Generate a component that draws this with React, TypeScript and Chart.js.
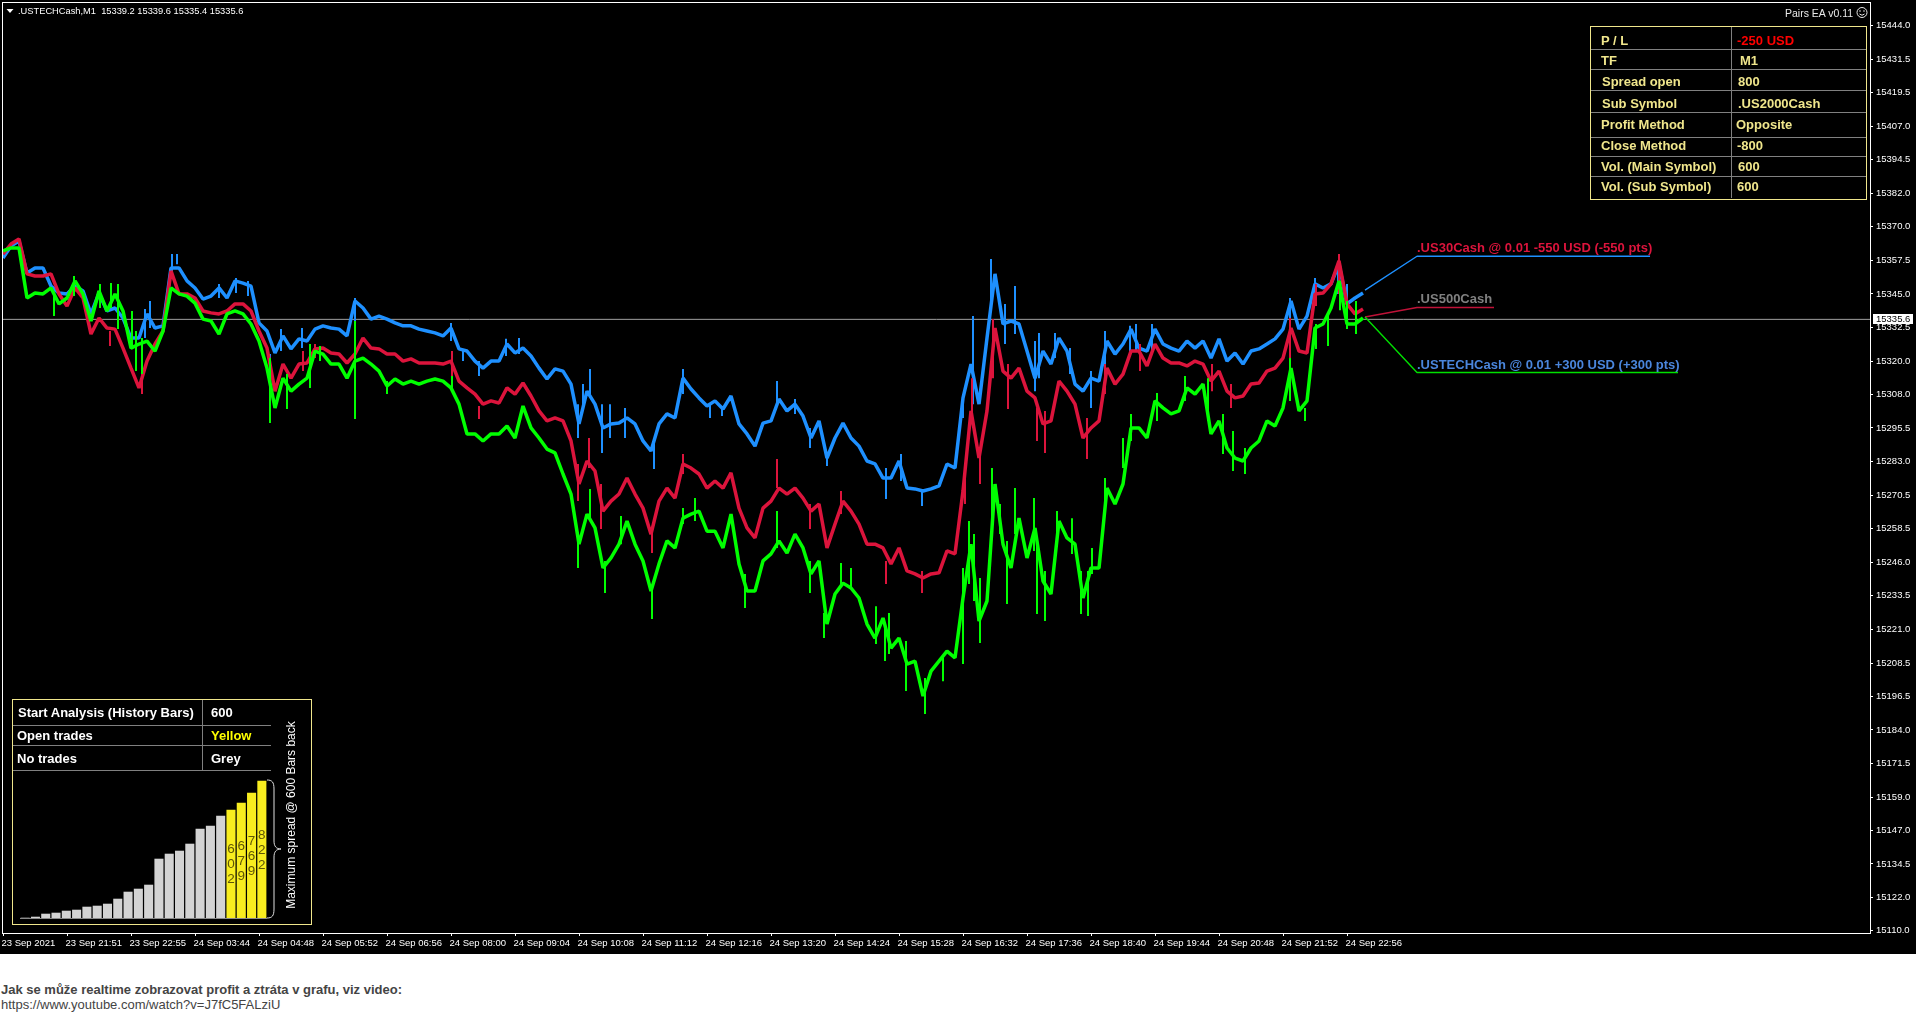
import React, { useEffect, useRef } from "react";
import { Chart, registerables } from "chart.js";

Chart.register(...registerables);

const SAMPLE_STEP = 8; // one reading every 8 one-minute bars

const blueSeries = [
  15358.3,15362.7,15364.5,15352.7,15354.6,15354.6,15347.9,15345.3,15345.0,15347.9,15346.1,15337.6,15345.3,15338.7,15339.8,15336.1,15328.7,15328.7,15337.6,15332.4,15333.2,15354.6,15354.6,15349.8,15347.2,15343.1,15344.2,15347.2,15343.5,15349.8,15349.0,15347.9,15334.3,
  15331.3,15323.2,15329.5,15324.7,15328.4,15327.6,15332.0,15333.2,15332.4,15332.0,15329.5,15342.4,15339.8,15335.7,15336.8,15335.7,15334.3,15333.2,15333.2,15332.0,15331.3,15330.6,15329.5,15332.4,15324.7,15323.9,15320.2,15317.6,15320.2,15320.2,
  15326.5,15323.2,15325.0,15322.1,15317.6,15313.6,15317.3,15316.5,15311.7,15297.0,15309.1,15304.3,15295.5,15297.0,15297.3,15299.2,15297.0,15290.7,15287.0,15297.0,15300.7,15299.2,15313.9,15309.9,15306.6,15303.6,15305.5,15302.5,15307.3,15297.0,15293.3,15288.8,15297.3,15298.1,15306.2,15301.8,15304.3,15299.9,15291.8,15298.1,15284.4,15291.8,15297.3,15291.8,15288.8,15283.3,15282.2,15277.0,15277.0,15283.3,15273.3,15273.0,15272.2,15273.0,15274.1,15282.2,15280.7,
  15306.6,15319.1,15304.3,15328.7,15352.4,15333.9,15335.0,15333.9,15323.9,15313.9,15323.9,15319.1,15328.7,15323.9,15311.7,15309.1,15313.9,15312.8,15327.6,15322.8,15326.5,15332.0,15325.0,15323.9,15332.0,15326.5,15325.0,15323.9,15327.6,15325.0,15327.6,15321.3,15328.4,15320.2,15323.2,15319.1,15323.9,15324.7,15326.5,15328.4,15332.0,15342.4,15332.0,15336.8,15348.7,15347.2,15348.7,15356.0,15341.3,15343.5,15345.3,
];

const redSeries = [
  15359.7,15363.4,15365.3,15352.4,15351.6,15351.6,15352.4,15345.0,15340.5,15347.2,15343.5,15330.2,15336.1,15332.4,15332.0,15325.0,15317.6,15310.3,15320.2,15326.5,15331.3,15353.5,15345.0,15345.0,15343.5,15338.7,15338.0,15337.6,15338.7,15341.3,15341.3,15338.7,15331.3,
  15325.0,15309.1,15319.1,15313.9,15319.1,15319.5,15324.7,15325.0,15323.2,15322.8,15319.5,15322.8,15328.7,15325.0,15324.7,15322.8,15322.8,15320.2,15321.0,15319.5,15319.5,15319.5,15319.1,15320.2,15312.8,15310.3,15308.0,15304.3,15305.5,15304.7,
  15310.3,15308.0,15312.1,15307.3,15301.8,15298.1,15299.2,15298.1,15290.7,15274.8,15283.3,15279.6,15264.8,15268.5,15271.1,15277.0,15271.1,15265.9,15256.3,15268.5,15273.3,15269.6,15282.2,15280.7,15278.5,15273.3,15275.9,15273.3,15278.9,15265.9,15258.6,15254.9,15265.9,15268.5,15273.3,15271.1,15273.3,15269.6,15264.8,15267.4,15251.2,15260.0,15268.5,15264.8,15260.0,15252.6,15252.6,15251.2,15245.3,15251.2,15242.7,15241.6,15240.1,15241.6,15242.0,15250.1,15249.0,
  15272.2,15301.8,15284.4,15301.8,15332.4,15316.5,15313.9,15317.6,15309.1,15306.6,15297.0,15298.1,15312.8,15309.1,15304.3,15291.8,15295.5,15298.1,15317.6,15311.7,15315.4,15323.9,15323.9,15318.4,15326.5,15321.3,15319.5,15319.5,15318.4,15320.2,15319.1,15312.8,15316.5,15309.1,15306.6,15307.3,15311.7,15312.1,15316.5,15317.6,15321.3,15332.4,15323.9,15323.2,15345.0,15345.3,15348.7,15357.2,15341.3,15337.6,15339.4,
];

const greenSeries = [
  15360.9,15362.0,15362.0,15343.5,15345.3,15345.0,15347.2,15341.3,15343.5,15349.8,15345.0,15335.0,15346.1,15338.7,15345.0,15338.7,15325.0,15326.5,15327.6,15323.9,15331.3,15347.2,15345.0,15344.2,15341.6,15335.7,15335.0,15330.2,15337.6,15338.7,15337.6,15333.9,15327.6,
  15317.6,15302.9,15313.9,15309.1,15311.7,15313.9,15323.9,15322.8,15319.1,15319.1,15313.9,15320.2,15321.3,15319.1,15316.5,15311.0,15313.6,15311.7,15312.8,15311.7,15312.8,15313.6,15312.8,15310.3,15304.3,15293.3,15293.3,15290.7,15293.3,15293.3,
  15296.2,15291.8,15303.6,15295.5,15291.8,15287.7,15286.3,15278.5,15271.1,15252.6,15263.7,15258.6,15243.8,15247.5,15252.6,15261.1,15252.6,15246.4,15235.3,15245.3,15253.8,15251.2,15262.2,15263.7,15264.8,15257.4,15257.4,15251.2,15263.7,15245.3,15235.3,15235.3,
  15246.4,15249.0,15253.8,15249.3,15256.3,15251.2,15241.6,15246.4,15223.1,15234.2,15238.2,15236.4,15232.7,15223.1,15217.9,15225.3,15214.2,15217.9,15208.3,15209.4,15196.5,15205.7,15209.4,15213.1,15210.6,
  15232.7,15252.6,15224.2,15231.6,15274.8,15252.6,15243.8,15262.2,15247.5,15258.6,15239.0,15234.2,15261.1,15254.9,15252.6,15232.7,15243.8,15243.8,15273.3,15267.4,15274.8,15295.5,15295.5,15291.8,15305.5,15302.9,15300.7,15301.8,15310.3,15308.0,15311.7,15293.3,15298.1,15288.1,15284.4,15283.3,15288.1,15290.7,15298.1,15296.2,15302.9,15317.6,15301.8,15305.5,15332.4,15333.9,15339.8,15349.8,15333.9,15333.9,15336.1,
];

// the tallest high/low excursions: [bar, high, low]
const blueWicks = [
  [169,15359.7,15353.5],[174,15359.7,15356.0],[216,15348.7,15343.5],[233,15350.9,15345.3],[245,15349.8,15344.2],[147,15342.4,15332.4],[142,15339.4,15328.7],[352,15343.5,15328.7],
  [278,15332.0,15323.9],[299,15332.4,15325.0],[476,15320.2,15314.7],[448,15334.3,15327.6],[267,15322.8,15313.9],[460,15323.9,15320.2],[503,15328.4,15322.1],[516,15328.7,15322.8],
  [587,15317.3,15308.0],[580,15311.7,15302.9],[575,15304.3,15291.8],[599,15304.3,15286.3],[607,15304.3,15291.8],[622,15302.9,15291.8],[651,15289.6,15280.3],[680,15317.3,15308.0],
  [707,15304.3,15299.2],[719,15303.6,15299.9],[774,15312.8,15304.3],[792,15306.2,15300.7],[807,15295.5,15288.1],[824,15285.9,15281.5],[898,15285.9,15275.9],[883,15280.7,15269.3],
  [919,15273.0,15266.7],[970,15336.8,15304.3],[988,15357.9,15338.7],[1012,15347.9,15330.2],[1002,15341.3,15326.5],[960,15308.0,15299.2],[1036,15330.6,15313.9],[1032,15327.6,15309.1],
  [1052,15330.6,15321.3],[1067,15325.0,15315.4],[1088,15316.5,15302.9],[1102,15331.3,15319.1],[1127,15333.2,15322.1],[1133,15333.9,15323.9],[1149,15333.9,15322.8],[1287,15343.5,15332.4],
  [1312,15350.9,15342.4],[1335,15356.0,15345.0],[1344,15348.7,15336.1],
];
const redWicks = [
  [139,15320.2,15308.0],[107,15331.3,15325.8],[352,15333.9,15322.8],[267,15317.6,15308.0],[300,15323.9,15316.5],[312,15326.5,15321.3],[449,15323.9,15313.9],[476,15303.6,15298.8],
  [575,15282.2,15268.5],[586,15291.8,15280.7],[598,15274.8,15258.2],[649,15258.6,15249.3],[680,15285.9,15278.5],[774,15284.0,15273.3],[807,15267.4,15258.2],[838,15272.2,15263.7],
  [883,15246.4,15237.9],[919,15242.7,15234.6],[962,15277.0,15267.4],[969,15313.9,15297.0],[977,15288.1,15274.8],[990,15335.7,15313.9],[1005,15319.1,15302.5],[1034,15302.9,15290.7],
  [1042,15301.8,15286.3],[1084,15299.2,15284.0],[1102,15319.1,15308.0],[1137,15326.5,15316.5],[1209,15319.1,15309.1],[1228,15311.7,15302.9],[1287,15336.1,15321.3],[1313,15348.7,15340.5],
  [1336,15359.7,15345.0],
];
const greenWicks = [
  [51,15346.1,15336.8],[71,15351.6,15344.2],[97,15348.7,15339.8],[108,15349.0,15339.8],[115,15348.7,15332.0],[139,15328.7,15315.4],[129,15338.7,15325.0],[133,15331.3,15316.5],
  [267,15321.3,15297.3],[284,15315.4,15302.5],[352,15335.0,15298.8],[307,15326.5,15310.3],[384,15312.8,15308.0],[317,15325.8,15320.2],[449,15314.7,15309.1],[575,15256.3,15243.8],
  [587,15273.0,15262.2],[602,15246.4,15234.6],[649,15236.4,15225.0],[680,15265.9,15260.0],[692,15269.6,15261.1],[618,15263.0,15252.6],[742,15241.6,15229.0],[774,15264.8,15251.2],
  [807,15246.4,15234.6],[821,15227.2,15217.9],[838,15245.6,15237.9],[848,15243.8,15236.0],[873,15229.7,15215.7],[882,15223.1,15209.4],[886,15227.2,15212.0],[903,15216.8,15198.4],
  [922,15203.2,15189.9],[940,15210.6,15202.0],[960,15243.8,15208.3],[966,15261.1,15237.9],[971,15256.3,15231.6],[977,15240.1,15216.1],[989,15280.7,15262.2],[997,15267.4,15256.3],
  [1004,15253.8,15230.5],[1012,15273.3,15256.3],[1031,15269.6,15250.1],[1034,15252.6,15226.8],[1042,15242.7,15224.2],[1054,15264.8,15252.6],[1069,15262.2,15249.0],[1078,15242.7,15226.8],
  [1085,15242.7,15226.1],[1089,15251.2,15241.6],[1102,15277.0,15264.8],[1120,15291.8,15280.7],[1128,15300.7,15290.7],[1154,15308.4,15298.1],[1182,15314.7,15305.5],[1205,15313.9,15298.1],
  [1220,15300.7,15285.9],[1230,15294.4,15279.6],[1242,15288.1,15278.5],[1287,15321.3,15305.5],[1302,15302.9,15298.1],[1313,15333.9,15324.7],[1325,15337.6,15325.8],[1337,15349.8,15339.0],
  [1344,15342.4,15332.0],[1353,15342.4,15330.2],
];

const currentPrice = 15335.6;
const lastBar = 1362;
const labelBarStart = 1414;
const blueLinkPrices = [15346.4, 15358.9, 15358.9];
const blueLinkBars = [lastBar, labelBarStart, 1647];
const redLinkPrices = [15336.5, 15340.0, 15340.0];
const redLinkBars = [lastBar, labelBarStart, 1491];
const greenLinkPrices = [15336.5, 15316.0, 15316.0];
const greenLinkBars = [lastBar, labelBarStart, 1675];

const priceTicks = [
  15444.0,15431.5,15419.5,15407.0,15394.5,15382.0,15370.0,15357.5,15345.0,15332.5,15320.0,15308.0,15295.5,15283.0,
  15270.5,15258.5,15246.0,15233.5,15221.0,15208.5,15196.5,15184.0,15171.5,15159.0,15147.0,15134.5,15122.0,15110.0,
];

const timeLabels = [
  "23 Sep 2021","23 Sep 21:51","23 Sep 22:55","24 Sep 03:44","24 Sep 04:48","24 Sep 05:52","24 Sep 06:56","24 Sep 08:00",
  "24 Sep 09:04","24 Sep 10:08","24 Sep 11:12","24 Sep 12:16","24 Sep 13:20","24 Sep 14:24","24 Sep 15:28","24 Sep 16:32",
  "24 Sep 17:36","24 Sep 18:40","24 Sep 19:44","24 Sep 20:48","24 Sep 21:52","24 Sep 22:56",
];
const TIME_TICK_BARS = 64;

// inset histogram: column heights as read, and the numbers printed in the yellow columns
const spreadHeights = [1.3,2.3,5.3,6.3,8.3,9.3,12.3,13.3,15.3,20.3,27.3,30.3,34.3,60.3,65.3,68.3,75.3,90.3,93.3,103.3,109.3,116.3,126.3,138.3];
const spreadPrinted = ["","","","","","","","","","","","","","","","","","","","","602","679","769","822"];

const pnlRows = [
  ["P / L","-250 USD"],["TF","M1"],["Spread open","800"],["Sub Symbol",".US2000Cash"],
  ["Profit Method","Opposite"],["Close Method","-800"],["Vol. (Main Symbol)","600"],["Vol. (Sub Symbol)","600"],
];
const pnlRowCentres = [41,61,82,104,125,146,167,187];
const pnlLeftX = [1601,1601,1602,1602,1601,1601,1601,1601];
const pnlRightX = [1737,1740,1738,1738,1736,1737,1738,1737];
const pnlRules = [49,69,90,112,137,156,176];

const analysisRows = [
  ["Start Analysis (History Bars)","600"],["Open trades","Yellow"],["No trades","Grey"],
];
const analysisCentres = [713,736,759];
const analysisRules = [725,745,770];

const FONT = '"Liberation Sans", Arial, sans-serif';
const KHAKI = "#f0e68c";

function toPoints(values: number[]) {
  return values.map((y, i) => ({ x: i * SAMPLE_STEP, y }));
}
function linkPoints(bars: number[], prices: number[]) {
  return bars.map((x, i) => ({ x, y: prices[i] }));
}
function wickPoints(wicks: number[][]) {
  return wicks.flatMap(([x, hi, lo]) => [{ x, y: hi }, { x, y: lo }, { x, y: NaN }]);
}

const frameAndPrice = {
  id: "frameAndPrice",
  afterDatasetsDraw(chart: any) {
    const { ctx, chartArea: a, scales } = chart;
    ctx.save();
    ctx.strokeStyle = "#ffffff";
    ctx.lineWidth = 1;
    ctx.strokeRect(a.left - 0.5, a.top + 0.5, a.right - a.left + 1, a.bottom - a.top);
    const py = Math.round(scales.y.getPixelForValue(currentPrice));
    ctx.fillStyle = "#ffffff";
    ctx.fillRect(a.right + 3, py - 5, 40, 10);
    ctx.fillStyle = "#000000";
    ctx.font = `9.5px ${FONT}`;
    ctx.textBaseline = "middle";
    ctx.fillText(currentPrice.toFixed(1), a.right + 6, py);
    ctx.restore();
  },
};

const printedDigits = {
  id: "printedDigits",
  afterDatasetsDraw(chart: any) {
    const { ctx } = chart;
    const bars = chart.getDatasetMeta(0).data;
    ctx.save();
    ctx.fillStyle = "#5f5606";
    ctx.font = `13.5px ${FONT}`;
    ctx.textAlign = "center";
    ctx.textBaseline = "middle";
    bars.forEach((bar: any, i: number) => {
      const text = spreadPrinted[i];
      if (!text) return;
      const mid = (bar.y + bar.base) / 2;
      [...text].forEach((d, k) => ctx.fillText(d, bar.x, mid + (k - 1) * 15));
    });
    ctx.strokeStyle = "#8a8a8a";
    ctx.beginPath();
    ctx.moveTo(0, chart.chartArea.bottom - 0.5);
    ctx.lineTo(chart.width, chart.chartArea.bottom - 0.5);
    ctx.stroke();
    ctx.restore();
  },
};

function Txt(p: { x: number; cy: number; size: number; color: string; bold?: boolean; children: string }) {
  return (
    <div
      style={{
        position: "absolute", left: p.x, top: p.cy - 10, height: 20, lineHeight: "20px", whiteSpace: "pre",
        fontFamily: FONT, fontSize: p.size, fontWeight: p.bold ? 700 : 400, color: p.color,
      }}
    >
      {p.children}
    </div>
  );
}
function Box(p: { x: number; y: number; w: number; h: number; color: string }) {
  return <div style={{ position: "absolute", left: p.x, top: p.y, width: p.w, height: p.h, background: p.color }} />;
}

export default function App() {
  const mainRef = useRef<HTMLCanvasElement>(null);
  const insetRef = useRef<HTMLCanvasElement>(null);

  useEffect(() => {
    document.body.style.margin = "0";
    const line = (data: any[], color: string, width: number) => ({
      data, borderColor: color, borderWidth: width, pointRadius: 0, tension: 0, borderJoinStyle: "bevel" as const, fill: false, spanGaps: false,
    });
    const main = new Chart(mainRef.current!, {
      type: "line",
      data: {
        datasets: [
          line(linkPoints(greenLinkBars, greenLinkPrices), "#00e000", 1.4),
          line(linkPoints(redLinkBars, redLinkPrices), "#c01238", 1.4),
          line(linkPoints(blueLinkBars, blueLinkPrices), "#1e90ff", 1.4),
          line(wickPoints(greenWicks), "#00ff00", 2),
          line(toPoints(greenSeries), "#00ff00", 3.5),
          line(wickPoints(redWicks), "#dc143c", 2),
          line(toPoints(redSeries), "#dc143c", 3.5),
          line(wickPoints(blueWicks), "#1e90ff", 2),
          line(toPoints(blueSeries), "#1e90ff", 3.5),
          line(linkPoints([0, 1867], [currentPrice, currentPrice]), "#a0a0a0", 1),
        ],
      },
      options: {
        animation: false,
        responsive: false,
        devicePixelRatio: 1,
        layout: { padding: { left: 3, top: 2, right: 0, bottom: 0 } },
        plugins: { legend: { display: false }, tooltip: { enabled: false }, title: { display: false } },
        scales: {
          x: {
            type: "linear",
            min: 0,
            max: 1867,
            border: { display: false },
            grid: { drawOnChartArea: false, color: "#ffffff", tickLength: 3 },
            afterBuildTicks: (s: any) => { s.ticks = timeLabels.map((_, i) => ({ value: i * TIME_TICK_BARS })); },
            afterFit: (s: any) => { s.height = 21; s.paddingLeft = 0; s.paddingRight = 0; },
            ticks: {
              color: "#ffffff", autoSkip: false, maxRotation: 0, align: "start", padding: 2, labelOffset: -1.5,
              font: { family: FONT, size: 9.5 },
              callback: (_v: any, i: number) => timeLabels[i],
            },
          },
          y: {
            type: "linear",
            position: "right",
            min: 15109.0,
            max: 15452.8,
            border: { display: false },
            grid: { drawOnChartArea: false, color: "#ffffff", tickLength: 3 },
            afterBuildTicks: (s: any) => { s.ticks = priceTicks.map((value) => ({ value })); },
            afterFit: (s: any) => { s.width = 46; s.paddingTop = 0; s.paddingBottom = 0; },
            ticks: {
              color: "#ffffff", autoSkip: false, padding: 3,
              font: { family: FONT, size: 9.5 },
              callback: (v: any) => Number(v).toFixed(1),
            },
          },
        },
      },
      plugins: [frameAndPrice],
    } as any);

    const inset = new Chart(insetRef.current!, {
      type: "bar",
      data: {
        labels: spreadHeights.map((_, i) => String(i + 1)),
        datasets: [{
          data: spreadHeights,
          backgroundColor: spreadPrinted.map((t) => (t ? "#f8ed1f" : "#d3d3d3")),
          categoryPercentage: 1,
          barPercentage: 0.88,
        }],
      },
      options: {
        animation: false,
        responsive: false,
        devicePixelRatio: 1,
        plugins: { legend: { display: false }, tooltip: { enabled: false } },
        scales: {
          x: { display: false },
          y: { display: false, min: 0, max: 142 },
        },
      },
      plugins: [printedDigits],
    } as any);

    return () => { main.destroy(); inset.destroy(); };
  }, []);

  return (
    <div style={{ position: "absolute", left: 0, top: 0, width: 1916, height: 1012, overflow: "hidden", background: "#ffffff" }}>
      <canvas ref={mainRef} width={1916} height={954} style={{ position: "absolute", left: 0, top: 0, background: "#000000" }} />

      {/* header */}
      <svg style={{ position: "absolute", left: 0, top: 0 }} width={20} height={20}>
        <polygon points="6.5,9 13.5,9 10,13" fill="#ffffff" />
      </svg>
      <Txt x={18} cy={10.5} size={9.3} color="#ffffff">{".USTECHCash,M1  15339.2 15339.6 15335.4 15335.6"}</Txt>
      <Txt x={1785} cy={12.5} size={10.5} color="#e8e8e8">Pairs EA v0.11</Txt>
      <svg style={{ position: "absolute", left: 1855, top: 6 }} width={14} height={14}>
        <circle cx={7} cy={6.5} r={5} fill="none" stroke="#e8e8e8" strokeWidth={1} />
        <circle cx={5} cy={5} r={0.8} fill="#e8e8e8" />
        <circle cx={9} cy={5} r={0.8} fill="#e8e8e8" />
        <path d="M4.5,8 Q7,10.5 9.5,8" fill="none" stroke="#e8e8e8" strokeWidth={1} />
      </svg>

      {/* labels at the end of the links */}
      <Txt x={1417} cy={247.5} size={13} bold color="#dc143c">.US30Cash @ 0.01 -550 USD (-550 pts)</Txt>
      <Txt x={1417} cy={299} size={13} bold color="#808080">.US500Cash</Txt>
      <Txt x={1417} cy={364.5} size={13} bold color="#4a86dc">.USTECHCash @ 0.01 +300 USD (+300 pts)</Txt>

      {/* P/L table */}
      <div style={{ position: "absolute", left: 1590, top: 26, width: 275, height: 172, border: `1px solid ${KHAKI}` }} />
      <Box x={1731} y={27} w={1} h={171} color="#808080" />
      {pnlRules.map((y) => <Box key={y} x={1591} y={y} w={275} h={1} color="#808080" />)}
      {pnlRows.map((row, i) => (
        <React.Fragment key={row[0]}>
          <Txt x={pnlLeftX[i]} cy={pnlRowCentres[i]} size={13} bold color={KHAKI}>{row[0]}</Txt>
          <Txt x={pnlRightX[i]} cy={pnlRowCentres[i]} size={13} bold color={i === 0 ? "#ff0000" : KHAKI}>{row[1]}</Txt>
        </React.Fragment>
      ))}

      {/* analysis panel */}
      <div style={{ position: "absolute", left: 12, top: 699, width: 298, height: 224, border: `1px solid ${KHAKI}` }} />
      <Box x={202} y={700} w={1} h={70} color="#808080" />
      {analysisRules.map((y) => <Box key={y} x={13} y={y} w={258} h={1} color="#808080" />)}
      {analysisRows.map((row, i) => (
        <React.Fragment key={row[0]}>
          <Txt x={i === 0 ? 18 : 17} cy={analysisCentres[i]} size={13} bold color="#ffffff">{row[0]}</Txt>
          <Txt x={211} cy={analysisCentres[i]} size={13} bold color={i === 1 ? "#ffff00" : "#ffffff"}>{row[1]}</Txt>
        </React.Fragment>
      ))}
      <canvas ref={insetRef} width={247} height={142} style={{ position: "absolute", left: 20, top: 777 }} />
      <svg style={{ position: "absolute", left: 262, top: 775 }} width={25} height={148}>
        <path
          d="M5,5 C10,5 12,7 12,14 L12,66 C12,71 14,74 19,74 C14,74 12,77 12,82 L12,134 C12,141 10,143 5,143"
          fill="none" stroke="#e0e0e0" strokeWidth={1}
        />
      </svg>
      <div
        style={{
          position: "absolute", left: 281, top: 804.5, width: 20, height: 20, lineHeight: "20px", whiteSpace: "nowrap",
          fontFamily: FONT, fontSize: 12, color: "#ffffff", display: "flex", justifyContent: "center",
          transform: "rotate(-90deg)",
        }}
      >
        Maximum spread @ 600 Bars back
      </div>

      {/* caption under the chart */}
      <Txt x={1} cy={990} size={13} bold color="#444444">Jak se může realtime zobrazovat profit a ztráta v grafu, viz video:</Txt>
      <Txt x={1} cy={1005} size={13} color="#444444">https://www.youtube.com/watch?v=J7fC5FALziU</Txt>
    </div>
  );
}
